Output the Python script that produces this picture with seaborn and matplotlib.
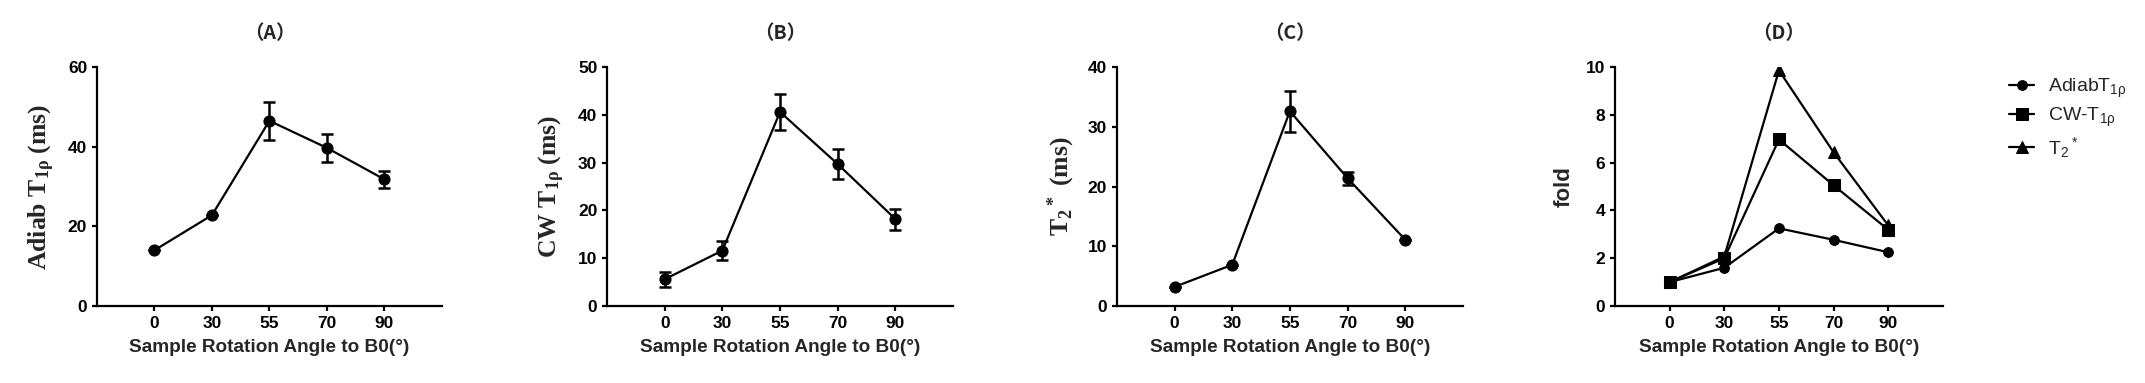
import numpy as np
import pandas as pd
from matplotlib import pyplot as plt
import seaborn as sns

angles = ["0", "30", "55", "70", "90"]

adiab_mean = [14.0, 22.8, 46.5, 39.7, 31.8]
adiab_err = [0.0, 0.0, 4.8, 3.5, 2.1]

cw_mean = [5.6, 11.6, 40.6, 29.7, 18.2]
cw_err = [1.6, 2.0, 3.7, 3.1, 2.2]

t2_mean = [3.2, 6.9, 32.6, 21.4, 11.1]
t2_err = [0.0, 0.0, 3.4, 1.1, 0.0]

fold_adiab = [1.0, 1.6, 3.25, 2.77, 2.25]
fold_cw = [1.0, 2.0, 6.97, 5.05, 3.19]
fold_t2 = [1.0, 2.07, 9.86, 6.43, 3.37]

titles = ["（A）", "（B）", "（C）", "（D）"]
ylabels = [r"Adiab T$_{1\rho}$ (ms)", r"CW T$_{1\rho}$ (ms)", r"T$_2{}^*$ (ms)", "fold"]
ymax = [60, 50, 40, 10]
ystep = [20, 10, 10, 2]
legend_labels = [r"AdiabT$_{1\rho}$", r"CW-T$_{1\rho}$", r"T$_2{}^*$"]
xlabel = "Sample Rotation Angle to B0(°)"

sns.set_style("ticks")
plt.rcParams["font.family"] = ["Liberation Sans", "DejaVu Sans"]
plt.rcParams["mathtext.default"] = "regular"
plt.rcParams["axes.linewidth"] = 1.6
plt.rcParams["xtick.major.width"] = 1.6
plt.rcParams["ytick.major.width"] = 1.6
plt.rcParams["xtick.major.size"] = 3.5
plt.rcParams["ytick.major.size"] = 3.5
plt.rcParams["xtick.color"] = "black"
plt.rcParams["ytick.color"] = "black"
plt.rcParams["axes.edgecolor"] = "black"

fig = plt.figure(figsize=(21.45, 3.83), dpi=100)
lefts = [0.0452, 0.2830, 0.5207, 0.7529]
widths = [0.1608, 0.1613, 0.1613, 0.1529]
axes = [fig.add_axes([lefts[i], 0.201, widths[i], 0.624]) for i in range(4)]

pos = np.arange(len(angles))
panels = [(adiab_mean, adiab_err), (cw_mean, cw_err), (t2_mean, t2_err)]

for i, (m, e) in enumerate(panels):
    ax = axes[i]
    df = pd.DataFrame({"x": pos, "y": m})
    sns.lineplot(data=df, x="x", y="y", ax=ax, color="black", lw=1.6,
                 marker="o", markersize=8, markeredgecolor="black")
    ax.errorbar(pos, m, yerr=e, fmt="none", ecolor="black", elinewidth=1.8,
                capsize=4.5, capthick=1.8)

# panel D
ax = axes[3]
fold_df = pd.DataFrame({"x": np.tile(pos, 3),
                        "y": fold_adiab + fold_cw + fold_t2,
                        "series": np.repeat(legend_labels, len(pos))})
marker_map = {legend_labels[0]: "o", legend_labels[1]: "s", legend_labels[2]: "^"}
size_map = {legend_labels[0]: 7, legend_labels[1]: 9, legend_labels[2]: 9}
for lab in legend_labels:
    sub = fold_df[fold_df["series"] == lab]
    sns.lineplot(data=sub, x="x", y="y", ax=ax, color="black", lw=1.6,
                 marker=marker_map[lab], markersize=size_map[lab],
                 markeredgecolor="black", label=lab, legend=False)

for i, ax in enumerate(axes):
    sns.despine(ax=ax)
    ax.set_xlim(-1, 5)
    ax.set_ylim(0, ymax[i])
    ax.set_yticks(np.arange(0, ymax[i] + 0.1, ystep[i]))
    ax.set_xticks(pos)
    ax.set_xticklabels(angles)
    ax.tick_params(labelsize=12.5)
    for t in ax.get_xticklabels() + ax.get_yticklabels():
        t.set_fontweight("bold")
    ax.set_xlabel(xlabel, fontsize=13.7, fontweight="bold", labelpad=6)
    ax.set_title(titles[i], fontsize=14, fontweight="bold", pad=20,
                 family=["Noto Sans CJK SC", "DejaVu Sans"])
    if i < 3:
        ax.set_ylabel(ylabels[i], fontsize=18.5, fontweight="bold",
                      family=["Liberation Serif", "DejaVu Serif"], labelpad=8)
    else:
        ax.set_ylabel(ylabels[i], fontsize=16, fontweight="bold", labelpad=8)

handles, labels = axes[3].get_legend_handles_labels()
fig.legend(handles, labels, loc="upper left", bbox_to_anchor=(0.9366, 0.80),
           frameon=False, fontsize=14, handlelength=1.3, handletextpad=0.7,
           labelspacing=0.3, borderpad=0, borderaxespad=0)

fig.savefig("out.png", dpi=100)
